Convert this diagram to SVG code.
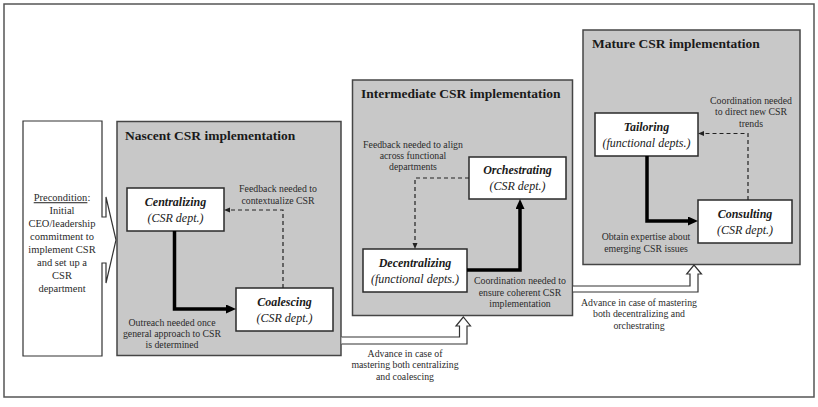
<svg xmlns="http://www.w3.org/2000/svg" width="818" height="407" viewBox="0 0 818 407">
<defs>
<style>
.stage{fill:#c8c8c8;stroke:#454545;stroke-width:1.5}
.node{fill:#ffffff;stroke:#2a2a2a;stroke-width:1.5}
.title{font-family:"Liberation Serif","Times New Roman",serif;font-weight:bold;font-size:13.5px;fill:#1a1a1a}
.nt{font-family:"Liberation Serif","Times New Roman",serif;font-style:italic;font-size:12px;fill:#1a1a1a;text-anchor:middle}
.nb{font-weight:bold}
.ann{font-family:"Liberation Serif","Times New Roman",serif;font-size:9.8px;fill:#2a2a2a;text-anchor:middle}
.pre{font-family:"Liberation Serif","Times New Roman",serif;font-size:10.5px;fill:#2a2a2a;text-anchor:middle}
.thick{fill:none;stroke:#000;stroke-width:3.5}
.dash{fill:none;stroke:#222;stroke-width:1.2;stroke-dasharray:4 3}
.hollow{fill:#ffffff;stroke:#333;stroke-width:1.2}
</style>
<marker id="hd" markerUnits="userSpaceOnUse" markerWidth="11" markerHeight="10" refX="0" refY="4.5" orient="auto"><polygon points="0,0 10,4.5 0,9" fill="#000"/></marker>
<marker id="hs" markerUnits="userSpaceOnUse" markerWidth="7" markerHeight="6" refX="0" refY="2.5" orient="auto"><polygon points="0,0 6,2.5 0,5" fill="#222"/></marker>
</defs>
<rect x="0" y="0" width="818" height="407" fill="#ffffff"/>
<rect x="4" y="4" width="810" height="393" fill="#ffffff" stroke="#555" stroke-width="1.5"/>

<g id="precondition">
<path d="M23,121 H102 V217 H106 V197 L116,240 L106,283 V263 H102 V356 H23 Z" fill="#ffffff" stroke="#333" stroke-width="1.2"/>
<text class="pre" x="62" y="201.2"><tspan text-decoration="underline">Precondition</tspan>:</text>
<text class="pre" x="62" y="214.2">Initial</text>
<text class="pre" x="62" y="227.2">CEO/leadership</text>
<text class="pre" x="62" y="240.2">commitment to</text>
<text class="pre" x="62" y="253.2">implement CSR</text>
<text class="pre" x="62" y="266.2">and set up a</text>
<text class="pre" x="62" y="279.2">CSR</text>
<text class="pre" x="62" y="292.2">department</text>
</g>

<g id="nascent">
<rect class="stage" x="117" y="121.5" width="224" height="234"/>
<text class="title" x="125" y="139.5">Nascent CSR implementation</text>
</g>
<g id="intermediate">
<rect class="stage" x="352.5" y="80" width="220" height="235.5"/>
<text class="title" x="361" y="98">Intermediate CSR implementation</text>
</g>
<g id="mature">
<rect class="stage" x="583" y="30" width="217" height="234.5"/>
<text class="title" x="592" y="48">Mature CSR implementation</text>
</g>

<g id="centralizing">
<rect class="node" x="127" y="188" width="97" height="43"/>
<text class="nt nb" x="175.5" y="205.7">Centralizing</text>
<text class="nt" x="175.5" y="221.7">(CSR dept.)</text>
</g>
<g id="coalescing">
<rect class="node" x="236" y="288" width="97" height="43"/>
<text class="nt nb" x="284.5" y="305.7">Coalescing</text>
<text class="nt" x="284.5" y="321.7">(CSR dept.)</text>
</g>
<g id="orchestrating">
<rect class="node" x="469" y="157" width="97" height="42"/>
<text class="nt nb" x="517.5" y="174">Orchestrating</text>
<text class="nt" x="517.5" y="190">(CSR dept.)</text>
</g>
<g id="decentralizing">
<rect class="node" x="363" y="249" width="104" height="43"/>
<text class="nt nb" x="415" y="266.7">Decentralizing</text>
<text class="nt" x="415" y="282.7">(functional depts.)</text>
</g>
<g id="tailoring">
<rect class="node" x="595" y="113" width="103" height="43"/>
<text class="nt nb" x="646.5" y="130.7">Tailoring</text>
<text class="nt" x="646.5" y="146.7">(functional depts.)</text>
</g>
<g id="consulting">
<rect class="node" x="698" y="200" width="94" height="43"/>
<text class="nt nb" x="745" y="217.7">Consulting</text>
<text class="nt" x="745" y="233.7">(CSR dept.)</text>
</g>

<g id="connectors">
<path class="thick" d="M174.5,231 V309 H226" marker-end="url(#hd)"/>
<path class="dash" d="M283,288 V210 H230" marker-end="url(#hs)"/>
<path class="thick" d="M467,270 H520 V209" marker-end="url(#hd)"/>
<path class="dash" d="M469,178 H415 V243" marker-end="url(#hs)"/>
<path class="thick" d="M647,156 V221 H688" marker-end="url(#hd)"/>
<path class="dash" d="M748,200 V133.5 H704" marker-end="url(#hs)"/>
<path class="hollow" d="M341.5,337 H459.5 V326 H456 L463.3,317 L470.5,326 H467 V344 H341.5"/>
<path class="hollow" d="M573,286 H690 V274 H686.7 L694,265 L701.5,274 H698 V292 H573"/>
</g>

<g id="labels">
<text class="ann" x="278" y="191.5">Feedback needed to</text>
<text class="ann" x="278" y="203.5">contextualize CSR</text>
<text class="ann" x="172" y="325.5">Outreach needed  once</text>
<text class="ann" x="172" y="336.8">general approach to CSR</text>
<text class="ann" x="172" y="348">is determined</text>
<text class="ann" x="413" y="147.5">Feedback needed to align</text>
<text class="ann" x="413" y="158.8">across functional</text>
<text class="ann" x="413" y="170">departments</text>
<text class="ann" x="520" y="284">Coordination needed  to</text>
<text class="ann" x="520" y="295.5">ensure coherent CSR</text>
<text class="ann" x="520" y="307">implementation</text>
<text class="ann" x="405" y="357">Advance  in case of</text>
<text class="ann" x="405" y="368.3">mastering both centralizing</text>
<text class="ann" x="405" y="379.5">and coalescing</text>
<text class="ann" x="639" y="305.5">Advance  in case of mastering</text>
<text class="ann" x="639" y="317">both decentralizing  and</text>
<text class="ann" x="639" y="328.5">orchestrating</text>
<text class="ann" x="751" y="103.5">Coordination needed</text>
<text class="ann" x="751" y="115">to direct new CSR</text>
<text class="ann" x="751" y="126.5">trends</text>
<text class="ann" x="646" y="240">Obtain expertise about</text>
<text class="ann" x="646" y="251.5">emerging CSR issues</text>
</g>
</svg>
